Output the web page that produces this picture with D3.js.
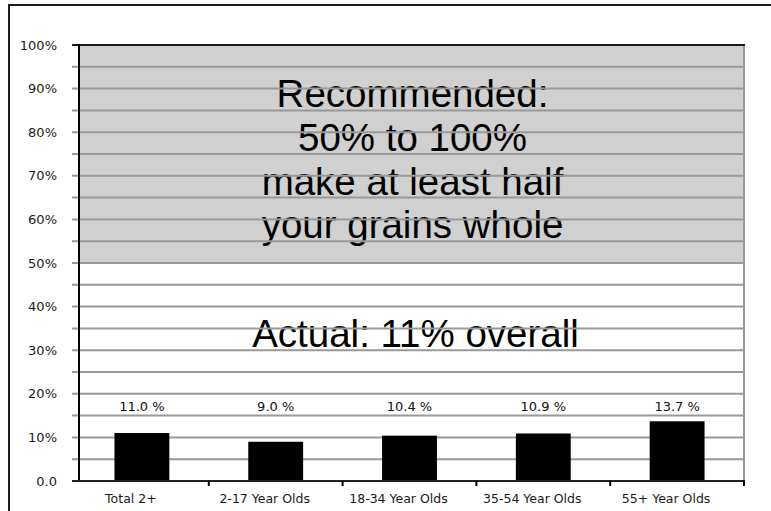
<!DOCTYPE html>
<html>
<head>
<meta charset="utf-8">
<script src="https://cdn.jsdelivr.net/npm/d3@7"></script>
<style>
  html, body { margin: 0; padding: 0; background: #fff; }
  svg { display: block; }
</style>
</head>
<body>
<svg id="chart" width="771" height="511"></svg>
<script>
// ---- data ----
const categories = ["Total 2+", "2-17 Year Olds", "18-34 Year Olds", "35-54 Year Olds", "55+ Year Olds"];
const values = [11.0, 9.0, 10.4, 10.9, 13.7];
const valueLabels = ["11.0 %", "9.0 %", "10.4 %", "10.9 %", "13.7 %"];
const yTickValues = [0, 10, 20, 30, 40, 50, 60, 70, 80, 90, 100];
const yTickLabels = ["0.0", "10%", "20%", "30%", "40%", "50%", "60%", "70%", "80%", "90%", "100%"];
const gridValues = d3.range(0, 101, 5);
const recommendedRange = [50, 100];
const recommendedText = ["Recommended:", "50% to 100%", "make at least half", "your grains whole"];
const actualText = "Actual: 11% overall";
const valueLabelLevel = 16.3;

// ---- layout ----
const svg = d3.select("#chart");
const plotLeft = 79, plotRight = 744, plotTop = 45, plotBottom = 481;

const y = d3.scaleLinear().domain([0, 100]).range([plotBottom, plotTop]);
const x = d3.scaleBand().domain(categories).range([75, plotRight])
  .paddingInner(0.59).paddingOuter(0.295);

// outer frame
svg.append("rect")
  .attr("x", 9).attr("y", 5).attr("width", 800).attr("height", 600)
  .attr("fill", "#fff").attr("stroke", "#1e1e1e").attr("stroke-width", 2);

// recommended shaded band
svg.append("rect")
  .attr("x", plotLeft).attr("width", plotRight - plotLeft)
  .attr("y", y(recommendedRange[1]))
  .attr("height", y(recommendedRange[0]) - y(recommendedRange[1]))
  .attr("fill", "#d0d0d0");

// big annotation text (behind gridlines)
const cx = (plotLeft + plotRight) / 2 + 1;
const recBaselines = [107, 151, 194.5, 238];
svg.append("g").selectAll("text").data(recommendedText).join("text")
  .attr("x", cx).attr("y", (d, i) => recBaselines[i])
  .attr("text-anchor", "middle")
  .attr("font-family", "'Liberation Sans', Arial, sans-serif")
  .attr("font-size", 38.5).attr("fill", "#000")
  .text(d => d);
svg.append("text")
  .attr("x", cx + 3).attr("y", 347)
  .attr("text-anchor", "middle")
  .attr("font-family", "'Liberation Sans', Arial, sans-serif")
  .attr("font-size", 38.5).attr("fill", "#000")
  .text(actualText);

// gridlines
svg.append("g").selectAll("line").data(gridValues.filter(v => v > 0 && v < 100)).join("line")
  .attr("x1", 72).attr("x2", plotRight)
  .attr("y1", d => y(d)).attr("y2", d => y(d))
  .attr("stroke", "#999").attr("stroke-width", 2);

// right border of plot (gray)
svg.append("line")
  .attr("x1", plotRight).attr("x2", plotRight)
  .attr("y1", plotTop).attr("y2", plotBottom)
  .attr("stroke", "#999").attr("stroke-width", 2);

// top border of plot (dark)
svg.append("line")
  .attr("x1", 72).attr("x2", plotRight + 1)
  .attr("y1", y(100)).attr("y2", y(100))
  .attr("stroke", "#1a1a1a").attr("stroke-width", 2);

// bars
svg.append("g").selectAll("rect").data(values).join("rect")
  .attr("x", (d, i) => x(categories[i]))
  .attr("width", x.bandwidth())
  .attr("y", d => y(d))
  .attr("height", d => y(0) - y(d))
  .attr("fill", "#000");

// value labels
svg.append("g").selectAll("text").data(valueLabels).join("text")
  .attr("x", (d, i) => x(categories[i]) + x.bandwidth() / 2)
  .attr("y", 411)
  .attr("text-anchor", "middle")
  .attr("font-family", "'DejaVu Sans', Verdana, sans-serif")
  .attr("font-size", 13).attr("fill", "#111")
  .text(d => d);

// y axis line
svg.append("line")
  .attr("x1", plotLeft).attr("x2", plotLeft)
  .attr("y1", plotTop - 1).attr("y2", plotBottom + 1)
  .attr("stroke", "#000").attr("stroke-width", 2);

// y tick labels
svg.append("g").selectAll("text").data(yTickValues).join("text")
  .attr("x", 57).attr("y", d => y(d))
  .attr("dy", "0.36em")
  .attr("text-anchor", "end")
  .attr("font-family", "'DejaVu Sans', Verdana, sans-serif")
  .attr("font-size", 13).attr("fill", "#1a1a1a")
  .text((d, i) => yTickLabels[i]);

// x axis line
svg.append("line")
  .attr("x1", 72).attr("x2", plotRight + 1)
  .attr("y1", plotBottom).attr("y2", plotBottom)
  .attr("stroke", "#222").attr("stroke-width", 2);

// x ticks at category boundaries
const boundaries = categories.map(c => x(c) + x.bandwidth() / 2 + x.step() / 2);
svg.append("g").selectAll("line").data(boundaries).join("line")
  .attr("x1", d => d).attr("x2", d => d)
  .attr("y1", plotBottom).attr("y2", plotBottom + 5)
  .attr("stroke", "#000").attr("stroke-width", 2);

// x labels
svg.append("g").selectAll("text").data(categories).join("text")
  .attr("x", d => x(d) + x.bandwidth() / 2 - 11)
  .attr("y", 503)
  .attr("text-anchor", "middle")
  .attr("font-family", "'DejaVu Sans', Verdana, sans-serif")
  .attr("font-size", 12.5).attr("fill", "#1a1a1a")
  .text(d => d);
</script>
</body>
</html>
